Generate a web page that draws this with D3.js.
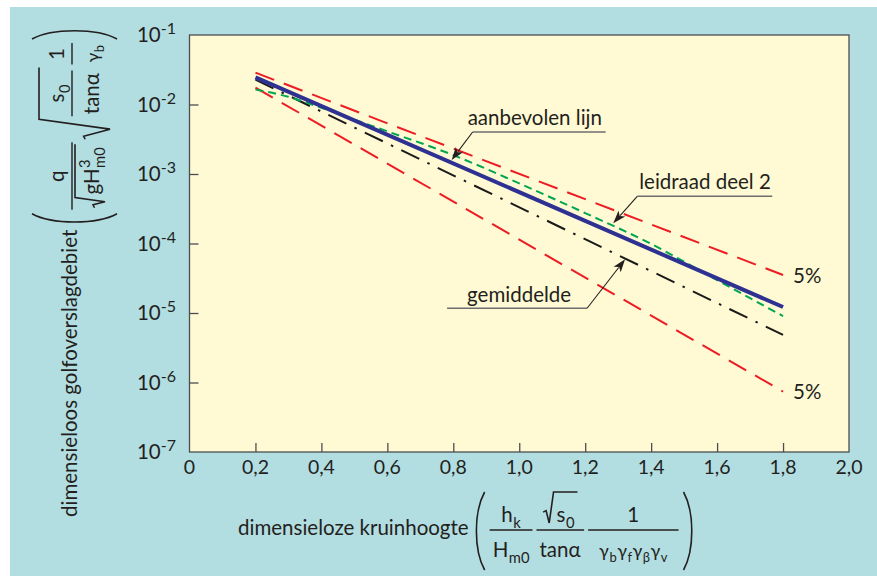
<!DOCTYPE html>
<html>
<head>
<meta charset="utf-8">
<script src="https://cdn.jsdelivr.net/npm/d3@7/dist/d3.min.js"></script>
<style>
  body { margin: 0; background: #fff; }
  text { font-family: Lato, "DejaVu Sans", sans-serif; fill: #231f20; }
</style>
</head>
<body>
<div id="chart"></div>
<script>
// Data
var xTicks = [0, 0.2, 0.4, 0.6, 0.8, 1.0, 1.2, 1.4, 1.6, 1.8, 2.0];
var yExponents = [-1, -2, -3, -4, -5, -6, -7];

var lineX = [0.2, 1.8];
var aanbevolen = [0.0246, 1.22e-5];   // blue solid
var gemiddelde = [0.0228, 4.83e-6];   // black dash-dot
var boven5 = [0.0287, 3.52e-5];       // red dashed, upper 5%
var onder5 = [0.0175, 7.4e-7];        // red dashed, lower 5%

var leidraadX = [0.2, 0.3, 0.4, 0.5, 0.6, 0.8, 1.0, 1.2, 1.4, 1.6, 1.8];
var leidraad = [1.64e-2, 1.29e-2, 8.97e-3, 6.05e-3, 4.11e-3, 1.87e-3, 7.31e-4, 2.74e-4, 9.86e-5, 2.97e-5, 9.02e-6];

var W = 877, H = 576;
var plot = {left: 189.5, right: 849, top: 35, bottom: 452};
var labelSize = 20.5;

var svg = d3.select("#chart").append("svg")
  .attr("width", W).attr("height", H);

// blue page background with white strip top/left
svg.append("rect").attr("x", 0).attr("y", 0).attr("width", W).attr("height", H).attr("fill", "#fff");
svg.append("rect").attr("x", 10).attr("y", 7).attr("width", W - 10).attr("height", H - 7).attr("fill", "#b2dde1");

var x = d3.scaleLinear().domain([0, 2]).range([plot.left, plot.right]);
var y = d3.scaleLog().domain([1e-7, 1e-1]).range([plot.bottom, plot.top]);

svg.append("rect")
  .attr("x", plot.left).attr("y", plot.top)
  .attr("width", plot.right - plot.left).attr("height", plot.bottom - plot.top)
  .attr("fill", "#fffad3").attr("stroke", "#4d4d4f").attr("stroke-width", 1.3);

// inward ticks
svg.append("g")
  .attr("transform", "translate(0," + plot.bottom + ")")
  .call(d3.axisTop(x).tickValues(xTicks.slice(1, -1)).tickSize(9).tickFormat(""))
  .call(function(g){ g.select(".domain").remove(); g.selectAll("line").attr("stroke", "#4d4d4f").attr("stroke-width", 1.3); });

svg.append("g")
  .attr("transform", "translate(" + plot.left + ",0)")
  .call(d3.axisRight(y).tickValues(yExponents.slice(1, -1).map(function(e){ return Math.pow(10, e); })).tickSize(9).tickFormat(""))
  .call(function(g){ g.select(".domain").remove(); g.selectAll("line").attr("stroke", "#4d4d4f").attr("stroke-width", 1.3); });

// tick labels
svg.append("g").selectAll("text")
  .data(xTicks).enter().append("text")
  .attr("x", function(d){ return x(d); })
  .attr("y", 474)
  .attr("text-anchor", "middle")
  .style("font-size", "19.5px")
  .text(function(d){ return d === 0 ? "0" : d.toFixed(1).replace(".", ","); });

var yl = svg.append("g").selectAll("text")
  .data(yExponents).enter().append("text")
  .attr("x", 176)
  .attr("y", function(d){ return y(Math.pow(10, d)) + 7; })
  .attr("text-anchor", "end")
  .style("font-size", "20.5px");
yl.append("tspan").text("10");
yl.append("tspan").attr("dy", -8).style("font-size", "16px").text(function(d){ return "-" + (-d); });

// series
var series = [
  {xs: lineX, ys: boven5, color: "#ed1c24", width: 2, dash: "20,10.35"},
  {xs: lineX, ys: onder5, color: "#ed1c24", width: 2, dash: "20,10.35"},
  {xs: lineX, ys: gemiddelde, color: "#1a1a1a", width: 2, dash: "20,9,2.5,9"},
  {xs: leidraadX, ys: leidraad, color: "#00a651", width: 2, dash: "8,5"},
  {xs: lineX, ys: aanbevolen, color: "#2e3192", width: 4, dash: null}
];

var line = d3.line()
  .x(function(d){ return x(d[0]); })
  .y(function(d){ return y(d[1]); })
  .curve(d3.curveMonotoneX);

series.forEach(function(s){
  svg.append("path")
    .datum(s.xs.map(function(v, i){ return [v, s.ys[i]]; }))
    .attr("d", line)
    .attr("fill", "none")
    .attr("stroke", s.color)
    .attr("stroke-width", s.width)
    .attr("stroke-dasharray", s.dash);
});

// 5% labels at the end of the red lines
[boven5, onder5].forEach(function(s){
  svg.append("text")
    .attr("x", x(lineX[1]) + 10)
    .attr("y", y(s[1]) + 7.5)
    .style("font-size", labelSize + "px")
    .text("5%");
});

// annotations: arrow tip on a curve, then elbow and underline in pixels
var notes = [
  {label: "aanbevolen lijn", tip: [0.795, 1.59e-3], elbow: [21, -28], lineTo: 133, text: [16, -35]},
  {label: "leidraad deel 2", tip: [1.285, 1.95e-4], elbow: [24, -27], lineTo: 135, text: [26, -34]},
  {label: "gemiddelde", tip: [1.321, 5.93e-5], elbow: [-38, 49], lineTo: -140, text: [-158, 43]}
];

notes.forEach(function(n){
  var tx = x(n.tip[0]), ty = y(n.tip[1]);
  var ex = tx + n.elbow[0], ey = ty + n.elbow[1];
  svg.append("line").attr("x1", ex).attr("y1", ey).attr("x2", ex + n.lineTo).attr("y2", ey)
    .attr("stroke", "#6d6e70").attr("stroke-width", 1.5);
  var dx = tx - ex, dy = ty - ey, len = Math.sqrt(dx*dx + dy*dy);
  var ux = dx/len, uy = dy/len, L = 13, w = 4.5;
  svg.append("line").attr("x1", ex).attr("y1", ey).attr("x2", tx - ux*L*0.8).attr("y2", ty - uy*L*0.8)
    .attr("stroke", "#231f20").attr("stroke-width", 1.1);
  var bx = tx - ux*L, by = ty - uy*L;
  svg.append("polygon")
    .attr("points", [[tx, ty], [bx - uy*w, by + ux*w], [tx - ux*L*0.75, ty - uy*L*0.75], [bx + uy*w, by - ux*w]].join(" "))
    .attr("fill", "#231f20");
  svg.append("text").attr("x", tx + n.text[0]).attr("y", ty + n.text[1])
    .style("font-size", labelSize + "px").text(n.label);
});

// ---- formula helpers (drawn in a local frame: baseline at y = 0) ----
var numY = -13, denY = 22, barY = -5;

function txt(g, x0, y0, s, size) {
  var t = g.append("text").attr("x", x0).attr("y", y0).style("font-size", size + "px").text(s);
  return t.node().getComputedTextLength();
}
// a symbol with subscript and / or superscript
function sym(base, sub, sup, size) {
  return function(g){
    var w = txt(g, 0, 0, base, size), ws = 0;
    if (sup) ws = txt(g, w + 0.5, -size*0.45, sup, size*0.72);
    if (sub) ws = Math.max(ws, txt(g, w + 0.5, size*0.3, sub, size*0.72));
    return w + 0.5 + ws;
  };
}
function seq(parts, gap) {
  return function(g){
    var cx = 0;
    parts.forEach(function(p, i){
      var gg = g.append("g").attr("transform", "translate(" + cx + ",0)");
      cx += p(gg) + (i < parts.length - 1 ? gap : 0);
    });
    return cx;
  };
}
function frac(num, den, pad) {
  return function(g){
    var gn = g.append("g"), gd = g.append("g");
    var wn = num(gn), wd = den(gd);
    var w = Math.max(wn, wd) + 2*pad;
    gn.attr("transform", "translate(" + ((w - wn)/2) + "," + numY + ")");
    gd.attr("transform", "translate(" + ((w - wd)/2) + "," + denY + ")");
    g.append("line").attr("x1", 0).attr("x2", w).attr("y1", barY).attr("y2", barY)
      .attr("stroke", "#231f20").attr("stroke-width", 1.4);
    return w;
  };
}
function root(inner, top, bottom) {
  return function(g){
    var h = bottom - top;
    var x1 = 3, x2 = x1 + 0.1*h, x3 = x2 + 0.14*h;
    var gi = g.append("g").attr("transform", "translate(" + (x3 + 3) + ",0)");
    var wi = inner(gi);
    g.append("path")
      .attr("d", "M0," + (bottom - 0.35*h) + "L" + x1 + "," + (bottom - 0.35*h - 1.5) +
        "L" + x2 + "," + bottom + "L" + x3 + "," + top + "L" + (x3 + wi + 6) + "," + top)
      .attr("fill", "none").attr("stroke", "#231f20").attr("stroke-width", 1.6)
      .attr("stroke-linejoin", "miter");
    return x3 + wi + 6;
  };
}
function paren(open, top, bottom) {
  return function(g){
    var a = open ? 11 : 1, b = open ? 0 : 12;
    g.append("path")
      .attr("d", "M" + a + "," + top + "C" + b + "," + (top + 20) + " " + b + "," + (bottom - 20) + " " + a + "," + bottom)
      .attr("fill", "none").attr("stroke", "#231f20").attr("stroke-width", 1.6);
    return 12;
  };
}

// ---- x axis title ----
var xt = svg.append("g").attr("transform", "translate(238,535)");
var wx = txt(xt, 0, 0, "dimensieloze kruinhoogte", labelSize);
seq([
  paren(true, -43, 35),
  frac(sym("h", "k", null, 20.5), sym("H", "m0", null, 20.5), 3),
  frac(root(sym("s", "0", null, 20.5), -30, 1), sym("tanα", null, null, 20.5), 3),
  frac(sym("1", null, null, 20.5),
       seq([sym("γ", "b", null, 18), sym("γ", "f", null, 18), sym("γ", "β", null, 18), sym("γ", "v", null, 18)], 0.5), 11),
  paren(false, -43, 35)
], 4)(xt.append("g").attr("transform", "translate(" + (wx + 5) + ",0)"));

// ---- y axis title (rotated) ----
var ytg = svg.append("g").attr("transform", "translate(77,517) rotate(-90)");
var wy = txt(ytg, 0, 0, "dimensieloos golfoverslagdebiet", labelSize);
seq([
  paren(true, -45, 40),
  frac(sym("q", null, null, 20.5), root(sym("gH", "m0", "3", 20.5), -24, 6), 2),
  root(frac(sym("s", "0", null, 20.5), sym("tanα", null, null, 20.5), 2), -38, 33),
  frac(sym("1", null, null, 20.5), sym("γ", "b", null, 18), 2),
  paren(false, -45, 40)
], 3)(ytg.append("g").attr("transform", "translate(" + (wy + 5) + ",0)"));
</script>
</body>
</html>
